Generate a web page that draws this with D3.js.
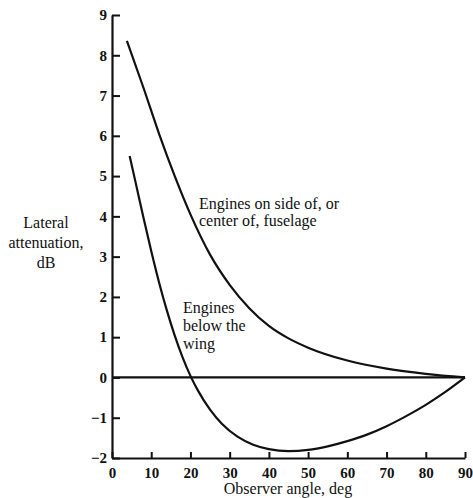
<!DOCTYPE html>
<html>
<head>
<meta charset="utf-8">
<script src="https://cdn.jsdelivr.net/npm/d3@7"></script>
<style>
  body { margin: 0; background: #fff; }
  svg { display: block; }
  text { font-family: "Liberation Serif", "DejaVu Serif", serif; fill: #111; }
  .tick text { font-size: 15px; font-weight: bold; }
  .lbl { font-size: 16px; }
</style>
</head>
<body>
<script>
// chart data
var xTicks = [0, 10, 20, 30, 40, 50, 60, 70, 80, 90];
var yTicks = [-2, -1, 0, 1, 2, 3, 4, 5, 6, 7, 8, 9];

// engines on side of, or center of, fuselage
var sideAngle = [3.8, 8, 12, 16, 20, 25, 30, 35, 40, 45, 50, 60, 70, 80, 90];
var sideAtten = [8.36, 7.2, 6.05, 5.0, 4.05, 3.05, 2.3, 1.72, 1.28, 0.97, 0.74, 0.42, 0.22, 0.09, 0];

// engines below the wing
var wingAngle = [4.5, 6, 8, 10, 12, 14, 16, 18, 20, 22, 25, 28, 32, 36, 40, 45, 50, 55, 60, 65, 70, 75, 80, 85, 90];
var wingAtten = [5.5, 4.85, 3.98, 3.14, 2.36, 1.66, 1.04, 0.5, 0.04, -0.34, -0.8, -1.15, -1.47, -1.67, -1.78, -1.83, -1.8, -1.71, -1.58, -1.42, -1.21, -0.96, -0.68, -0.36, 0];

var svgWidth = 473;
var svgHeight = 498;

var svg = d3.select("body")
    .append("svg")
    .attr("width", svgWidth)
    .attr("height", svgHeight);

// scales
var xScale = d3.scaleLinear()
    .domain([0, 90])
    .range([112, 465]);

var yScale = d3.scaleLinear()
    .domain([-2, 9])
    .range([458, 15]);

// y axis, ticks pointing inward
var yAxis = d3.axisLeft(yScale)
    .tickValues(yTicks)
    .tickSizeInner(-8)
    .tickSizeOuter(0)
    .tickPadding(5);

var yG = svg.append("g")
    .attr("transform", `translate(${xScale(0)},0)`)
    .call(yAxis);

// x axis, ticks pointing up
var xAxis = d3.axisBottom(xScale)
    .tickValues(xTicks)
    .tickSizeInner(-6)
    .tickSizeOuter(0)
    .tickPadding(4);

var xG = svg.append("g")
    .attr("transform", `translate(0,${yScale(-2)})`)
    .call(xAxis);

[yG, xG].forEach(function (g) {
    g.attr("font-family", null).attr("font-size", null);
    g.select(".domain").attr("stroke", "#111").attr("stroke-width", 2.2);
    g.selectAll(".tick line").attr("stroke", "#111").attr("stroke-width", 2);
    g.selectAll(".tick text")
        .style("font-family", "'Liberation Serif', 'DejaVu Serif', serif")
        .style("font-weight", "bold")
        .style("font-size", "15px");
});
xG.selectAll(".tick text").attr("dy", "1.05em");

// zero reference line
svg.append("line")
    .attr("x1", xScale(0))
    .attr("x2", xScale(90))
    .attr("y1", yScale(0))
    .attr("y2", yScale(0))
    .attr("stroke", "#111")
    .attr("stroke-width", 2.2);

// curves
var line = d3.line()
    .x(d => xScale(d[0]))
    .y(d => yScale(d[1]))
    .curve(d3.curveMonotoneX);

svg.append("path")
    .datum(d3.zip(sideAngle, sideAtten))
    .attr("d", line)
    .attr("fill", "none")
    .attr("stroke", "#111")
    .attr("stroke-width", 2.2);

svg.append("path")
    .datum(d3.zip(wingAngle, wingAtten))
    .attr("d", line)
    .attr("fill", "none")
    .attr("stroke", "#111")
    .attr("stroke-width", 2.2);

// text labels
function addLines(lines, x, y, anchor, step) {
    var t = svg.append("text")
        .attr("class", "lbl")
        .attr("text-anchor", anchor);
    lines.forEach(function (s, i) {
        t.append("tspan").attr("x", x).attr("y", y + i * step).text(s);
    });
}

addLines(["Engines on side of, or", "center of, fuselage"], 199, 209, "start", 17);
addLines(["Engines", "below the", "wing"], 183, 313, "start", 18);
addLines(["Lateral", "attenuation,", "dB"], 46, 228, "middle", 20);

svg.append("text")
    .attr("class", "lbl")
    .attr("text-anchor", "middle")
    .attr("x", 288)
    .attr("y", 494)
    .text("Observer angle, deg");
</script>
</body>
</html>
